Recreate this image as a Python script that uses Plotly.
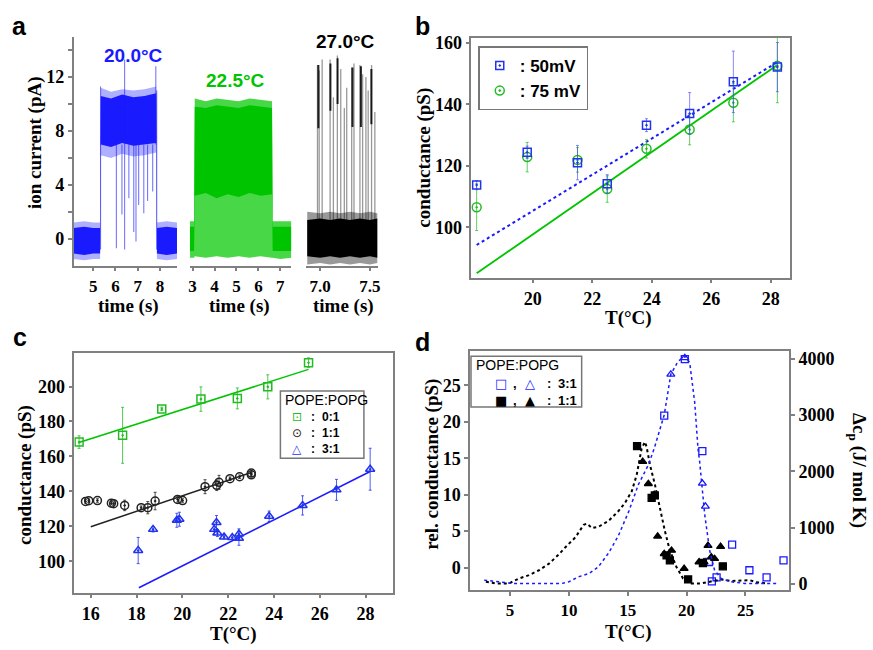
import plotly.graph_objects as go

W, H = 873, 650

# ---- a : single channel current (pA), noise envelopes ----
t20     = [4.12, 4.6, 5.0, 5.31, 5.34, 5.8, 6.3, 6.8, 7.3, 7.83, 7.86, 8.3, 8.76]
i20_lo  = [-1.1, -1.2, -1.1, -1.1, 7.0, 6.8, 7.1, 6.9, 7.0, 7.1, -1.1, -1.2, -1.1]
i20_hi  = [0.8, 0.9, 0.8, 0.8, 10.6, 10.4, 10.7, 10.5, 10.6, 10.8, 0.8, 0.9, 0.8]
i20_lo2 = [-1.5, -1.6, -1.5, -1.5, 6.2, 6.0, 6.3, 6.1, 6.2, 6.4, -1.5, -1.6, -1.5]
i20_hi2 = [1.2, 1.3, 1.2, 1.2, 11.2, 10.9, 11.1, 11.0, 11.1, 11.3, 1.2, 1.3, 1.2]
s20_t   = [5.33, 6.04, 6.29, 6.41, 6.60, 6.82, 6.92, 7.04, 7.27, 7.44, 7.67, 7.81, 7.85]
s20_lo  = [-0.8, -0.7, 1.8, -0.8, 3.0, 0.5, -0.2, 2.5, 1.9, 2.8, 3.5, 7.0, -0.8]
s20_hi  = [11.3, 7.0, 7.0, 13.3, 7.0, 7.0, 7.0, 7.0, 7.0, 7.0, 7.0, 12.8, 11.0]

t22     = [2.88, 3.07, 3.10, 3.6, 4.1, 4.6, 5.1, 5.6, 6.1, 6.62, 6.65, 7.0, 7.5]
i22_lo  = [-0.9, -0.9, 3.2, 3.4, 3.0, 3.3, 3.1, 3.4, 3.2, 3.3, -0.9, -0.9, -0.9]
i22_hi  = [0.9, 0.9, 9.8, 9.7, 9.9, 9.8, 9.7, 9.9, 9.8, 9.7, 0.9, 0.9, 0.9]
i22_lo2 = [-1.4, -1.4, -1.3, -1.4, -1.3, -1.4, -1.3, -1.4, -1.3, -1.4, -1.4, -1.5, -1.4]
i22_hi2 = [1.3, 1.3, 10.4, 10.2, 10.4, 10.3, 10.2, 10.4, 10.3, 10.2, 1.3, 1.3, 1.3]

t27     = [6.87, 7.0, 7.1, 7.2, 7.3, 7.4, 7.5, 7.575]
i27_lo  = [-1.3, -1.4, -1.3, -1.4, -1.3, -1.4, -1.3, -1.4]
i27_hi  = [1.4, 1.5, 1.4, 1.5, 1.4, 1.5, 1.4, 1.5]
i27_lo2 = [-1.9, -1.8, -1.9, -1.8, -1.9, -1.8, -1.9, -1.8]
i27_hi2 = [2.0, 1.9, 2.0, 1.9, 2.0, 1.9, 2.0, 1.9]
s27_t   = [6.973, 6.99, 7.02, 7.10, 7.133, 7.173, 7.207, 7.243, 7.267, 7.317, 7.34,
           7.40, 7.427, 7.46, 7.483, 7.517, 7.55]
s27_hi  = [12.9, 12.5, 13.3, 13.3, 10.5, 13.6, 12.6, 9.7, 11.2, 12.7, 13.0,
           12.9, 12.2, 12.0, 11.0, 12.9, 9.4]
s27_lo  = [-1.2] * len(s27_t)
o27_t   = [6.982, 7.103, 7.175, 7.325, 7.41, 7.515]
o27_lo  = [8.2, 9.5, 10.0, 8.3, 8.3, 8.5]
o27_hi  = [12.9, 13.0, 13.4, 12.7, 12.8, 12.6]

# ---- b : conductance vs temperature at two voltages ----
b_T    = [18.11, 19.81, 21.50, 22.50, 23.82, 25.27, 26.74, 28.22]
g50    = [113.7, 124.4, 121.0, 114.1, 133.2, 137.0, 147.3, 152.1]
g50_e  = [1.5, 2.0, 5.6, 3.0, 2.1, 6.8, 10.0, 8.0]
g75    = [106.5, 122.8, 121.9, 112.4, 125.5, 131.8, 140.5, 152.5]
g75_e  = [7.6, 4.8, 4.0, 4.3, 3.0, 5.0, 6.2, 12.0]
fitb_T = [18.11, 28.22]
fit50  = [94.2, 153.7]
fit75  = [85.0, 152.8]

# ---- c : conductance vs temperature for three lipid ratios ----
c01_T = [15.49, 17.39, 19.10, 20.81, 22.40, 23.73, 25.51]
c01_g = [168.2, 172.1, 187.2, 192.8, 193.2, 199.8, 213.6]
c01_e = [3.6, 16.0, 1.0, 7.0, 6.0, 6.9, 2.8]
c01_fitT, c01_fit = [15.45, 25.51], [167.8, 209.8]

c11_T = [15.77, 15.91, 16.29, 16.90, 17.00, 17.48, 18.20, 18.49, 18.81, 19.79, 20.01,
         20.99, 21.50, 21.60, 22.08, 22.50, 23.01, 23.01]
c11_g = [134.3, 134.7, 134.8, 133.3, 133.0, 132.0, 130.7, 130.7, 134.5, 135.4, 134.8,
         142.7, 143.5, 145.2, 147.3, 148.4, 150.5, 149.5]
c11_e = [1, 1, 1, 1, 1, 3, 1, 3.5, 5, 1.5, 1, 4, 3, 4, 1, 1, 1, 1]
c11_fitT, c11_fit = [16.0, 23.01], [119.8, 150.8]

c31_T = [18.07, 18.72, 19.76, 19.87, 21.39, 21.49, 21.53, 21.82, 22.18, 22.47, 22.47,
         23.79, 25.25, 26.73, 28.20]
c31_g = [106.2, 118.3, 123.5, 124.1, 118.3, 122.2, 116.2, 113.9, 113.6, 115.6, 113.2,
         125.8, 132.0, 140.9, 152.7]
c31_e = [7.5, 1.5, 4, 4, 3, 4, 2, 1, 1, 3, 4, 3, 5.5, 6, 12]
c31_fitT, c31_fit = [18.10, 28.20], [84.9, 151.4]

# ---- d : relative conductance and DSC heat capacity ----
dsc11_T  = [2.94, 3.79, 4.9, 5.76, 6.6, 7.45, 8.3, 9.14, 9.7, 10.55, 11.25, 11.54, 11.96,
            12.52, 13.37, 14.21, 14.77, 15.34, 15.76, 16.18, 16.46, 16.6, 16.89, 17.31,
            17.73, 18.15, 18.58, 19.14, 19.70, 20.41, 21.25, 22.1, 22.94, 23.79, 24.63,
            25.34, 26.04, 26.89]
dsc11_cp = [41, 12, 12, 99, 158, 245, 362, 526, 654, 829, 1051, 1074, 993, 1016, 1121,
            1296, 1442, 1647, 1939, 2406, 2523, 2435, 2114, 1764, 1355, 946, 596, 304,
            99, 12, 12, 53, 82, 53, 58, 70, 29, 12]
dsc31_T  = [2.8, 3.8, 5.2, 6.6, 8.0, 9.4, 10.0, 10.8, 11.7, 12.5, 13.4, 14.2, 15.1, 15.9,
            16.75, 17.25, 18.1, 18.66, 19.28, 19.9, 20.27, 20.69, 20.97, 21.11, 21.54,
            21.96, 22.38, 22.94, 23.79, 24.92, 26.32, 27.73]
dsc31_cp = [70, 41, 12, 12, 12, 12, 41, 128, 187, 304, 560, 858, 1296, 1764, 2114, 2406,
            3001, 3720, 3953, 4041, 3924, 3223, 2406, 2172, 1238, 596, 245, 99, 41, 12,
            12, 12]
d31s_T = [18.1, 19.85, 21.34, 21.9, 22.15, 22.55, 23.87, 25.34, 26.8, 28.24]
d31s_g = [20.85, 28.6, 15.97, 0.77, -1.9, -1.35, 3.16, -0.36, -1.35, 0.99]
d31t_T = [18.66, 19.85, 21.34, 21.6]
d31t_g = [26.5, 28.75, 11.55, 8.4]
d11s_T = [15.79, 17.03, 17.3, 18.3, 18.58, 20.13, 21.39, 23.08]
d11s_g = [16.65, 9.57, 9.9, 1.67, 0.99, -1.62, 0.63, 0.18]
d11t_T = [16.27, 16.75, 17.25, 17.54, 18.1, 18.72, 19.79, 21.06, 21.48, 21.82, 22.1, 22.38, 22.89]
d11t_g = [14.53, 11.5, 10.0, 4.29, 1.9, 2.35, -0.14, 0.77, 0.77, 3.02, 1.44, 1.22, 2.89]

BLUE = "#1a1aff"
GREEN = "#00c400"
GRAY = "#808080"
SERIF = "Liberation Serif"
SANS = "Liberation Sans"


def band(t, lo, hi):
    return list(t) + list(t)[::-1], list(hi) + list(lo)[::-1]


def sticks(t, lo, hi):
    xs, ys = [], []
    for ti, a, b in zip(t, lo, hi):
        xs += [ti, ti, None]
        ys += [a, b, None]
    return xs, ys


def dx(x0, x1):
    return [x0 / W, x1 / W]


def dy(y0, y1):
    return [1 - y1 / H, 1 - y0 / H]


fig = go.Figure()

# panel a traces
for t, lo, hi, lo2, hi2, col, light, xa in [
        (t20, i20_lo, i20_hi, i20_lo2, i20_hi2, BLUE, "rgba(26,26,255,0.35)", "x"),
        (t22, i22_lo, i22_hi, i22_lo2, i22_hi2, GREEN, "rgba(0,200,0,0.72)", "x2"),
        (t27, i27_lo, i27_hi, i27_lo2, i27_hi2, "black", "rgba(0,0,0,0.4)", "x3")]:
    bx, by = band(t, lo2, hi2)
    fig.add_trace(go.Scatter(x=bx, y=by, fill="toself", fillcolor=light, mode="lines",
                             line=dict(width=0), xaxis=xa, yaxis="y", showlegend=False))
    bx, by = band(t, lo, hi)
    fig.add_trace(go.Scatter(x=bx, y=by, fill="toself", fillcolor=col, mode="lines",
                             line=dict(width=0), xaxis=xa, yaxis="y", showlegend=False))

sx, sy = sticks(s20_t, s20_lo, s20_hi)
fig.add_trace(go.Scatter(x=sx, y=sy, mode="lines", line=dict(color="rgba(26,26,255,0.6)", width=1.1),
                         xaxis="x", yaxis="y", showlegend=False))
sx, sy = sticks(s27_t, s27_lo, s27_hi)
fig.add_trace(go.Scatter(x=sx, y=sy, mode="lines", line=dict(color="rgba(0,0,0,0.4)", width=1.3),
                         xaxis="x3", yaxis="y", showlegend=False))
sx, sy = sticks(o27_t, o27_lo, o27_hi)
fig.add_trace(go.Scatter(x=sx, y=sy, mode="lines", line=dict(color="rgba(0,0,0,0.85)", width=2),
                         xaxis="x3", yaxis="y", showlegend=False))

# panel b
fig.add_trace(go.Scatter(x=fitb_T, y=fit50, mode="lines", line=dict(color=BLUE, width=2, dash="dot"),
                         xaxis="x4", yaxis="y4", showlegend=False))
fig.add_trace(go.Scatter(x=fitb_T, y=fit75, mode="lines", line=dict(color=GREEN, width=1.8),
                         xaxis="x4", yaxis="y4", showlegend=False))
fig.add_trace(go.Scatter(x=b_T, y=g75, mode="markers", name=": 75 mV", legendrank=2,
                         marker=dict(symbol="circle-open-dot", size=9, color="#22bb22", line=dict(width=1.5)),
                         error_y=dict(type="data", array=g75_e, color="rgba(34,187,34,0.7)", thickness=1, width=1.5),
                         xaxis="x4", yaxis="y4"))
fig.add_trace(go.Scatter(x=b_T, y=g50, mode="markers", name=": 50mV", legendrank=1,
                         marker=dict(symbol="square-open-dot", size=8, color="#2233ee", line=dict(width=1.5)),
                         error_y=dict(type="data", array=g50_e, color="rgba(60,60,255,0.6)", thickness=1, width=1.5),
                         xaxis="x4", yaxis="y4"))

# panel c
for fT, fg, col in [(c01_fitT, c01_fit, GREEN), (c11_fitT, c11_fit, "#222222"), (c31_fitT, c31_fit, BLUE)]:
    fig.add_trace(go.Scatter(x=fT, y=fg, mode="lines", line=dict(color=col, width=1.5),
                             xaxis="x5", yaxis="y5", showlegend=False))
for T, g, e, col, sym in [
        (c01_T, c01_g, c01_e, "#22bb22", "square-open-dot"),
        (c11_T, c11_g, c11_e, "#222222", "circle-open-dot"),
        (c31_T, c31_g, c31_e, "#2233ee", "triangle-up-open-dot")]:
    fig.add_trace(go.Scatter(x=T, y=g, mode="markers", showlegend=False,
                             marker=dict(symbol=sym, size=8, color=col, line=dict(width=1.5)),
                             error_y=dict(type="data", array=e, color=col, thickness=0.8, width=1.5),
                             xaxis="x5", yaxis="y5"))

# panel d
fig.add_trace(go.Scatter(x=dsc11_T, y=dsc11_cp, mode="lines", line=dict(color="black", width=2, dash="dot"),
                         xaxis="x6", yaxis="y7", showlegend=False))
fig.add_trace(go.Scatter(x=dsc31_T, y=dsc31_cp, mode="lines", line=dict(color=BLUE, width=1.5, dash="dot"),
                         xaxis="x6", yaxis="y7", showlegend=False))
for T, g, sym, col in [(d31s_T, d31s_g, "square-open", BLUE), (d31t_T, d31t_g, "triangle-up-open", BLUE),
                       (d11s_T, d11s_g, "square", "black"), (d11t_T, d11t_g, "triangle-up", "black")]:
    fig.add_trace(go.Scatter(x=T, y=g, mode="markers", marker=dict(symbol=sym, size=7, color=col, line=dict(width=1.3, color=col)),
                             xaxis="x6", yaxis="y6", showlegend=False))

tickfont = dict(family=SERIF, size=18, color="black", weight="bold")


def ax(domain, rng, tickvals, anchor, mirror=False, **kw):
    d = dict(domain=domain, range=rng, tickvals=tickvals, anchor=anchor, showline=True,
             linecolor=GRAY, linewidth=1.5, ticks="outside", ticklen=4, tickwidth=1.5,
             tickcolor=GRAY, tickfont=tickfont, showgrid=False, zeroline=False, mirror=mirror)
    d.update(kw)
    return d


small = dict(tickfont, size=17)
ya = dy(33, 265)
layout = dict(
    xaxis=ax(dx(72, 176), [4.12, 8.76], [5, 6, 7, 8], "y", tickfont=small),
    xaxis2=ax(dx(189, 291), [2.88, 7.5], [3, 4, 5, 6, 7], "y", tickfont=small),
    xaxis3=ax(dx(306, 378), [6.86, 7.58], [7.0, 7.5], "y", tickformat=".1f", tickfont=small),
    yaxis=ax(ya, [-2, 15], [0, 4, 8, 12], "x",
             minor=dict(tickvals=[2, 6, 10, 14], ticks="outside", ticklen=4, tickcolor=GRAY)),
    xaxis4=ax(dx(472, 793), [17.93, 28.66], [20, 22, 24, 26, 28], "y4", mirror=True),
    yaxis4=ax(dy(34, 277), [83.6, 161.7], [100, 120, 140, 160], "x4", mirror=True),
    xaxis5=ax(dx(72.7, 393.3), [15.28, 29.2], [16, 18, 20, 22, 24, 26, 28], "y5", mirror=True),
    yaxis5=ax(dy(353.3, 596), [82.1, 219.2], [100, 120, 140, 160, 180, 200], "x5", mirror=True),
    xaxis6=ax(dx(470.7, 791.7), [1.59, 28.72], [5, 10, 15, 20, 25], "y6", mirror=True, tickfont=small),
    yaxis6=ax(dy(351.7, 593.3), [-3.07, 29.65], [0, 5, 10, 15, 20, 25], "x6", mirror=True),
    yaxis7=ax(dy(351.7, 593.3), [-105, 4128], [0, 1000, 2000, 3000, 4000], "x6",
              overlaying="y6", side="right"),
)

layout["legend"] = dict(x=479 / W, y=1 - 43 / H, xanchor="left", yanchor="top",
                        font=dict(family=SANS, size=17, color="black", weight="bold"),
                        bordercolor="#777777", borderwidth=1.5, bgcolor="white")

ann = []


def text(x, y, s, size=19, family=SERIF, color="black", angle=0, xanchor="center"):
    ann.append(dict(x=x / W, y=1 - y / H, xref="paper", yref="paper", text=s, showarrow=False,
                    xanchor=xanchor, yanchor="middle", textangle=angle,
                    font=dict(family=family, size=size, color=color)))


for lbl, x, y in [("a", 18, 22), ("b", 423, 22), ("c", 18, 337), ("d", 423, 342)]:
    text(x, y, "<b>%s</b>" % lbl, size=25, family=SANS)
text(132, 52, "<b>20.0°C</b>", family=SANS, color=BLUE)
text(235, 77, "<b>22.5°C</b>", family=SANS, color=GREEN)
text(345, 38, "<b>27.0°C</b>", family=SANS)
text(33, 140, "<b>ion current (pA)</b>", angle=-90)
for x in (127, 239, 343):
    text(x, 306, "<b>time (s)</b>")
text(425, 156, "<b>conductance (pS)</b>", angle=-90)
text(630, 318, "<b>T(°C)</b>")
text(23, 477, "<b>conductance (pS)</b>", angle=-90)
text(233, 638, "<b>T(°C)</b>")
text(433, 466, "<b>rel. conductance (pS)</b>", angle=-90)
text(861, 472, "<b>Δc<sub>p</sub> (J/ mol K)</b>", angle=90)
text(630, 636, "<b>T(°C)</b>")

# panel c legend
text(283, 401, "POPE:POPG", size=14, family=SANS, xanchor="left")
for y, glyph, col, lab in [(417.7, "⊡", "#22bb22", "0:1"), (434.3, "⊙", "#222222", "1:1"),
                           (451, "△", "#2233ee", "3:1")]:
    text(297, y, glyph, size=12, family="DejaVu Sans", color=col)
    text(313, y, "<b>:</b>", size=12, family=SANS)
    text(331, y, "<b>%s</b>" % lab, size=12, family=SANS)

# panel d legend
text(475, 366, "POPE:POPG", size=14, family=SANS, xanchor="left")
for y, sq, tri, col, lab in [(384, "□", "△", BLUE, "3:1"), (401, "■", "▲", "black", "1:1")]:
    text(502, y, sq, size=13, family="DejaVu Sans", color=col)
    text(516, y, "<b>,</b>", size=13, family=SANS)
    text(531, y, tri, size=13, family="DejaVu Sans", color=col)
    text(550, y, "<b>:</b>", size=13, family=SANS)
    text(569, y, "<b>%s</b>" % lab, size=13, family=SANS)

box = dict(type="rect", xref="paper", yref="paper", line=dict(color="#777777", width=1.5),
           fillcolor="white", layer="above")
shapes = [dict(box, x0=471.7 / W, x1=583 / W, y0=1 - 408 / H, y1=1 - 356.7 / H),
          dict(box, x0=280 / W, x1=364 / W, y0=1 - 460 / H, y1=1 - 391.7 / H)]

fig.update_layout(width=W, height=H, autosize=False, margin=dict(l=0, r=0, t=0, b=0),
                  paper_bgcolor="white", plot_bgcolor="white", annotations=ann, shapes=shapes,
                  **layout)

# the page body has a default 8px margin; drop it so the figure fills the window
fig.write_html("out.html", config={"displayModeBar": False},
               post_script="document.body.style.margin='0';")
